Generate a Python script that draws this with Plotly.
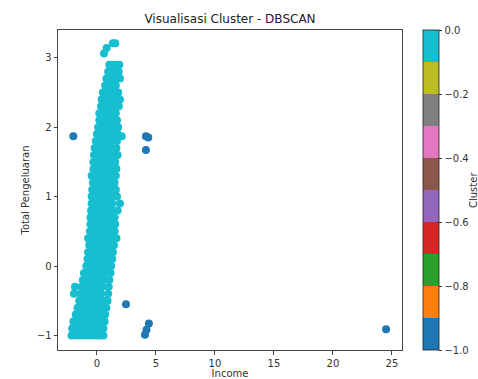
import plotly.graph_objects as go

# Cluster 0 (core points), read row by row: (y, [x values])
cluster0_rows = [
    (3.21, [1.35, 1.55]),
    (3.14, [0.82]),
    (3.06, [0.6]),
    (2.9, [1.05, 1.35, 1.65, 1.9]),
    (2.8, [0.95, 1.25, 1.55, 1.85]),
    (2.7, [0.8, 1.1, 1.4, 1.7, 1.95]),
    (2.6, [0.7, 1.0, 1.3, 1.6]),
    (2.5, [0.5, 0.85, 1.2, 1.5, 1.8]),
    (2.4, [0.4, 0.75, 1.1, 1.4, 1.7, 1.95]),
    (2.3, [0.35, 0.7, 1.05, 1.4, 1.85]),
    (2.2, [0.2, 0.55, 0.9, 1.25, 1.6]),
    (2.1, [0.2, 0.55, 0.9, 1.25, 1.7]),
    (2.0, [0.1, 0.45, 0.8, 1.15, 1.5, 1.8]),
    (1.9, [0.0, 0.35, 0.7, 1.05, 1.4, 1.75]),
    (1.87, [2.1]),
    (1.8, [-0.1, 0.25, 0.6, 0.95, 1.3, 1.7]),
    (1.7, [-0.2, 0.15, 0.5, 0.85, 1.2, 1.65]),
    (1.6, [-0.25, 0.1, 0.45, 0.8, 1.15, 1.5, 1.75]),
    (1.5, [-0.3, 0.05, 0.4, 0.75, 1.1, 1.55]),
    (1.4, [-0.3, 0.05, 0.4, 0.75, 1.1, 1.45, 1.65]),
    (1.3, [-0.45, -0.1, 0.25, 0.6, 0.95, 1.3, 1.6]),
    (1.2, [-0.35, 0.0, 0.35, 0.7, 1.05, 1.5]),
    (1.1, [-0.4, -0.05, 0.3, 0.65, 1.0, 1.35, 1.6]),
    (1.0, [-0.45, -0.1, 0.25, 0.6, 0.95, 1.3, 1.7]),
    (0.9, [-0.45, -0.1, 0.25, 0.6, 0.95, 1.3, 1.95]),
    (0.8, [-0.5, -0.15, 0.2, 0.55, 0.9, 1.25, 1.75]),
    (0.7, [-0.55, -0.2, 0.15, 0.5, 0.85, 1.2, 1.5]),
    (0.6, [-0.55, -0.2, 0.15, 0.5, 0.85, 1.2, 1.55]),
    (0.5, [-0.6, -0.25, 0.1, 0.45, 0.8, 1.15, 1.5]),
    (0.4, [-0.75, -0.4, -0.05, 0.3, 0.65, 1.0, 1.35, 1.65]),
    (0.3, [-0.65, -0.3, 0.05, 0.4, 0.75, 1.1, 1.45]),
    (0.2, [-0.75, -0.4, -0.05, 0.3, 0.65, 1.0, 1.35]),
    (0.1, [-0.8, -0.45, -0.1, 0.25, 0.6, 0.95, 1.3]),
    (0.0, [-0.9, -0.55, -0.2, 0.15, 0.5, 0.85, 1.2]),
    (-0.1, [-1.1, -0.75, -0.4, -0.05, 0.3, 0.65, 1.15]),
    (-0.2, [-1.2, -0.85, -0.5, -0.15, 0.2, 0.55, 1.05]),
    (-0.3, [-1.86, -1.3, -0.95, -0.6, -0.25, 0.1, 0.45, 1.0]),
    (-0.4, [-1.95, -1.4, -1.05, -0.7, -0.35, 0.0, 0.35, 0.95]),
    (-0.5, [-1.5, -1.15, -0.8, -0.45, -0.1, 0.25, 0.6, 0.9]),
    (-0.6, [-1.65, -1.3, -0.95, -0.6, -0.25, 0.1, 0.45, 0.8]),
    (-0.7, [-1.8, -1.45, -1.1, -0.75, -0.4, -0.05, 0.3, 0.7]),
    (-0.8, [-2.0, -1.65, -1.3, -0.95, -0.6, -0.25, 0.1, 0.4, 0.65]),
    (-0.9, [-2.1, -1.75, -1.4, -1.05, -0.7, -0.35, 0.0, 0.3, 0.55]),
    (-1.0, [-2.15, -1.8, -1.45, -1.1, -0.75, -0.4, -0.05, 0.3, 0.55]),
]

# Noise points (cluster -1)
noise_x = [-2.0, 4.15, 4.35, 4.15, 2.46, 4.4, 4.2, 4.07, 24.5]
noise_y = [1.87, 1.87, 1.85, 1.67, -0.55, -0.83, -0.92, -0.99, -0.91]

tab10 = ["#1f77b4", "#ff7f0e", "#2ca02c", "#d62728", "#9467bd",
         "#8c564b", "#e377c2", "#7f7f7f", "#bcbd22", "#17becf"]
cbar_ticks = [-1.0, -0.8, -0.6, -0.4, -0.2, 0.0]

xs, ys, labels = [], [], []
for yv, xl in cluster0_rows:
    for xv in xl:
        xs.append(xv); ys.append(yv); labels.append(0)
for xv, yv in zip(noise_x, noise_y):
    xs.append(xv); ys.append(yv); labels.append(-1)

colorscale = []
for i, c in enumerate(tab10):
    colorscale.append([i / 10, c])
    colorscale.append([(i + 1) / 10, c])

font = "DejaVu Sans"
fig = go.Figure(go.Scatter(
    x=xs, y=ys, mode="markers",
    marker=dict(
        size=8, color=labels, colorscale=colorscale, cmin=-1, cmax=0,
        line=dict(width=0),
        colorbar=dict(
            x=1.061, xanchor="left", y=0.5, yanchor="middle",
            len=1.0, lenmode="fraction", thickness=16,
            xpad=0, ypad=0, outlinewidth=0.8, outlinecolor="#222",
            tickvals=cbar_ticks, tickformat=".1f", ticks="outside",
            ticklen=3.5, tickcolor="#333",
            tickfont=dict(family=font, size=10, color="#333"),
        ),
    ),
    showlegend=False,
))

axis_common = dict(
    showgrid=False, zeroline=False, showline=True, linecolor="#444",
    linewidth=1, mirror=True, ticks="outside", ticklen=3.5,
    tickcolor="#444", tickfont=dict(family=font, size=10, color="#333"),
    automargin=False,
)
fig.update_layout(
    width=478, height=379,
    margin=dict(l=58, r=76, t=30, b=29, autoexpand=False),
    paper_bgcolor="white", plot_bgcolor="white",
    title=dict(text="Visualisasi Cluster - DBSCAN", x=(58 + 402) / 2 / 478,
               xanchor="center", y=1 - 19 / 379, yanchor="middle",
               font=dict(family=font, size=12, color="#222")),
    xaxis=dict(range=[-3.3, 25.85], tickvals=[0, 5, 10, 15, 20, 25],
               title=dict(text="Income", standoff=6,
                          font=dict(family=font, size=10, color="#333")),
               **axis_common),
    yaxis=dict(range=[-1.21, 3.40], tickvals=[-1, 0, 1, 2, 3],
               title=dict(text="Total Pengeluaran", standoff=5,
                          font=dict(family=font, size=10, color="#333")),
               **axis_common),
    annotations=[dict(
        text="Cluster", xref="paper", yref="paper",
        x=(473 - 58) / 344, y=0.5, xanchor="center", yanchor="middle",
        textangle=-90, showarrow=False,
        font=dict(family=font, size=10, color="#333"),
    )],
)

fig.write_html("out.html")
